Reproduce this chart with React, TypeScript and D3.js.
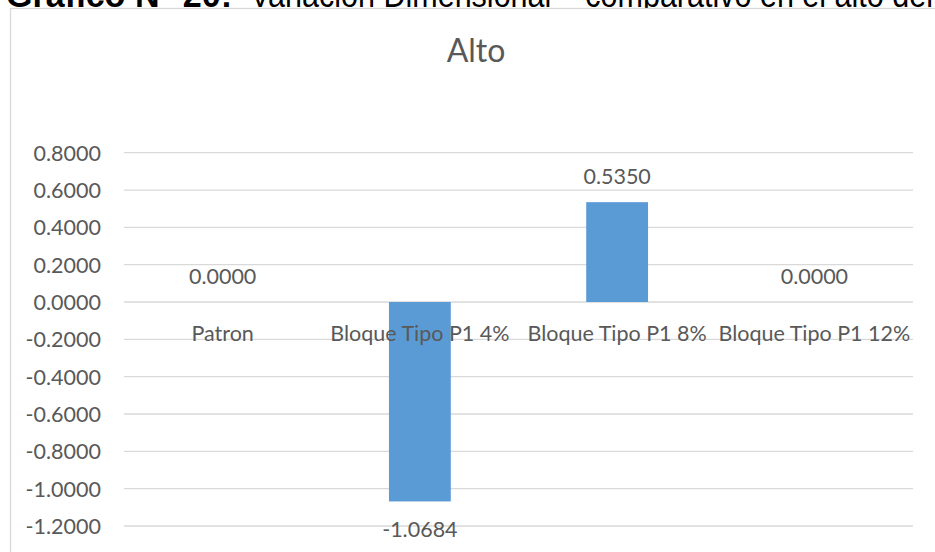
import React from "react";
import * as d3 from "d3";

// Series: dimensional variation in height per block type
const categories = ["Patron", "Bloque Tipo P1 4%", "Bloque Tipo P1 8%", "Bloque Tipo P1 12%"];
const values = [0.0, -1.0684, 0.535, 0.0];
const yTicks = [0.8, 0.6, 0.4, 0.2, 0.0, -0.2, -0.4, -0.6, -0.8, -1.0, -1.2];
const chartTitle = "Alto";
const captionBold = "Gráfico N° 20:";
const captionRest = "Variación Dimensional – comparativo en el alto del";

const W = 935;
const H = 552;
const plot = { left: 124, right: 913, top: 152.7, bottom: 526 };
const TEXT = "#595959";
const GRID = "#d9d9d9";
const BAR = "#5b9bd5";
const FONT = "Lato, 'Open Sans', sans-serif";

// four decimals, plain hyphen for negatives
const fmt4 = d3.format(".4f");
const fmt = (v: number) => fmt4(v).replace("\u2212", "-");

export default function App() {
  const x = d3
    .scaleBand<string>()
    .domain(categories)
    .range([plot.left, plot.right])
    .paddingInner(0)
    .paddingOuter(0);
  const y = d3.scaleLinear().domain([-1.2, 0.8]).range([plot.bottom, plot.top]);
  const step = x.step();
  const barW = step / 3.19; // gap width 219%
  const y0 = y(0);

  return (
    <svg
      width={W}
      height={H}
      style={{ position: "absolute", left: 0, top: 0, background: "#fff" }}
    >
      {/* caption line above the chart, partly hidden by the frame */}
      <text x={6} y={7} fontFamily="'Liberation Sans', Arial, sans-serif" fontSize={35} fill="#000">
        <tspan fontWeight="bold" textLength={226} lengthAdjust="spacingAndGlyphs">
          {captionBold}
        </tspan>
      </text>
      <text
        x={250}
        y={7}
        fontFamily="'Liberation Sans', Arial, sans-serif"
        fontSize={35}
        fill="#000"
        textLength={683}
        lengthAdjust="spacingAndGlyphs"
      >
        {captionRest}
      </text>

      {/* chart frame */}
      <rect x={10.5} y={8.5} width={W + 20} height={H + 20} fill="#fff" stroke={GRID} strokeWidth={1.3} />

      <text x={476} y={62} textAnchor="middle" fontFamily={FONT} fontSize={32} fill={TEXT}>
        {chartTitle}
      </text>

      {/* gridlines and y-axis labels */}
      {yTicks.map((t) => (
        <g key={t}>
          <line x1={plot.left} x2={plot.right} y1={y(t)} y2={y(t)} stroke={GRID} strokeWidth={1.3} />
          <text
            x={101}
            y={y(t) + 8}
            textAnchor="end"
            fontFamily={FONT}
            fontSize={21.5}
            fill={TEXT}
          >
            {fmt(t)}
          </text>
        </g>
      ))}

      {/* bars */}
      {categories.map((c, i) => {
        const cx = (x(c) as number) + step / 2;
        const v = values[i];
        const top = Math.min(y(v), y0);
        const h = Math.abs(y(v) - y0);
        return (
          <rect key={c} x={cx - barW / 2} y={top} width={barW} height={h} fill={BAR} />
        );
      })}

      {/* category labels at the zero line */}
      {categories.map((c) => (
        <text
          key={c}
          x={(x(c) as number) + step / 2}
          y={y0 + 39}
          textAnchor="middle"
          fontFamily={FONT}
          fontSize={21.5}
          fill={TEXT}
        >
          {c}
        </text>
      ))}

      {/* value labels */}
      {categories.map((c, i) => {
        const cx = (x(c) as number) + step / 2;
        const v = values[i];
        const ly = v < 0 ? y(v) + 36 : y(v) - 18.5;
        return (
          <text
            key={c}
            x={cx}
            y={ly}
            textAnchor="middle"
            fontFamily={FONT}
            fontSize={21.5}
            fill={TEXT}
          >
            {fmt(v)}
          </text>
        );
      })}
    </svg>
  );
}
